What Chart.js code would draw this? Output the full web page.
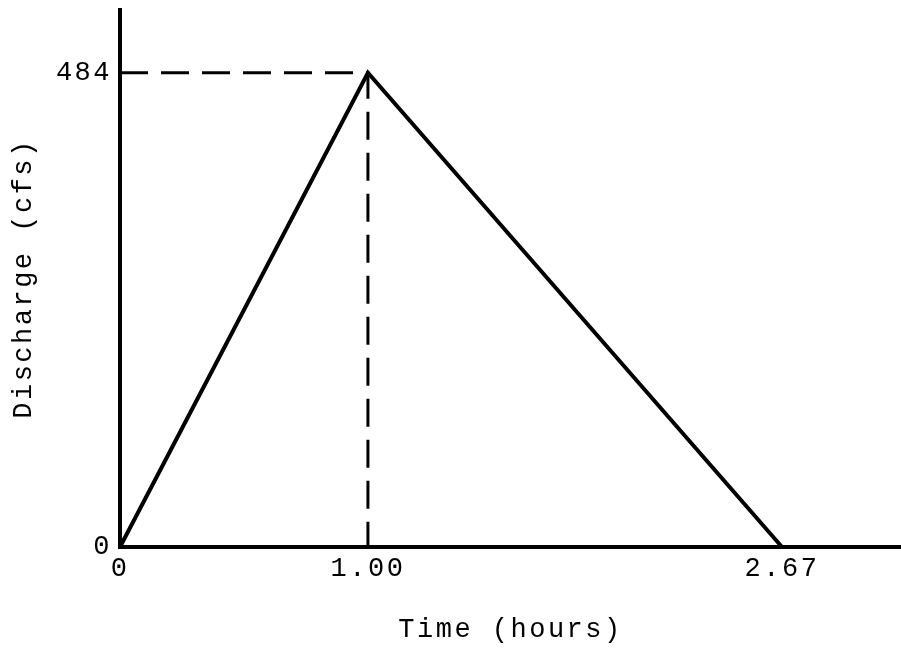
<!DOCTYPE html>
<html>
<head>
<meta charset="utf-8">
<script src="https://cdn.jsdelivr.net/npm/chart.js@4"></script>
<style>
  html, body { margin: 0; padding: 0; background: #fff; }
  #wrap { width: 901px; height: 653px; position: relative; }
</style>
</head>
<body>
<div id="wrap"><canvas id="hydroChart"></canvas></div>
<script>
// dados do hidrograma triangular
const tempos = [0, 1.00, 2.67];          // horas
const vazoes = [0, 484, 0];              // cfs
const tempoPico = 1.00;
const vazaoPico = 484;
const xTicks = [0, 1.00, 2.67];
const xTickLabels = ['0', '1.00', '2.67'];
const yTicks = [0, 484];
const yTickLabels = ['0', '484'];

const fonte = { family: '"Liberation Mono", "Courier New", monospace', size: 27 };

// espaçamento de letras estilo máquina de escrever
const espacamento = {
    id: 'espacamento',
    beforeLayout(chart) { chart.ctx.letterSpacing = '2.5px'; },
    beforeDraw(chart) { chart.ctx.letterSpacing = '2.5px'; }
};

const ctx = document.getElementById('hydroChart').getContext('2d');

new Chart(ctx, {
    type: 'scatter',
    data: {
        datasets: [
            {
                label: 'Hidrograma',
                data: tempos.map((t, i) => ({ x: t, y: vazoes[i] })),
                showLine: true,
                borderColor: '#000',
                borderWidth: 4,
                pointRadius: 0,
                tension: 0
            },
            {
                label: 'Pico',
                data: [
                    { x: 0, y: vazaoPico },
                    { x: tempoPico, y: vazaoPico },
                    { x: tempoPico, y: 0 }
                ],
                showLine: true,
                borderColor: '#000',
                borderWidth: 3,
                borderDash: [28, 13],
                pointRadius: 0,
                tension: 0
            }
        ]
    },
    options: {
        responsive: true,
        maintainAspectRatio: false,
        animation: false,
        clip: false,
        layout: { padding: { top: 10, right: 0, left: 0, bottom: 0 } },
        plugins: {
            legend: { display: false },
            tooltip: { enabled: false }
        },
        scales: {
            x: {
                type: 'linear',
                min: 0,
                max: 3.15,
                afterFit: function(scale) {
                    scale.height = 106;
                    scale.paddingLeft = 0;
                    scale.paddingRight = 0;
                },
                afterBuildTicks: function(scale) {
                    scale.ticks = xTicks.map(v => ({ value: v }));
                },
                grid: { display: false, drawTicks: false },
                border: { display: true, color: '#000', width: 4 },
                ticks: {
                    color: '#000',
                    font: fonte,
                    padding: 6,
                    maxRotation: 0,
                    autoSkip: false,
                    callback: function(value) {
                        const i = xTicks.indexOf(value);
                        return i >= 0 ? xTickLabels[i] : '';
                    }
                },
                title: {
                    display: true,
                    text: 'Time (hours)',
                    color: '#000',
                    font: fonte,
                    padding: { top: 0, bottom: 7 }
                }
            },
            y: {
                type: 'linear',
                min: 0,
                max: 548,
                afterFit: function(scale) {
                    scale.width = 120;
                    scale.paddingTop = 0;
                    scale.paddingBottom = 0;
                },
                afterBuildTicks: function(scale) {
                    scale.ticks = yTicks.map(v => ({ value: v }));
                },
                grid: { display: false, drawTicks: false },
                border: { display: true, color: '#000', width: 4 },
                ticks: {
                    color: '#000',
                    font: fonte,
                    padding: 8,
                    autoSkip: false,
                    callback: function(value) {
                        const i = yTicks.indexOf(value);
                        return i >= 0 ? yTickLabels[i] : '';
                    }
                },
                title: {
                    display: true,
                    text: 'Discharge (cfs)',
                    color: '#000',
                    font: fonte,
                    padding: { top: 8, bottom: 0 }
                }
            }
        }
    },
    plugins: [espacamento]
});
</script>
</body>
</html>
